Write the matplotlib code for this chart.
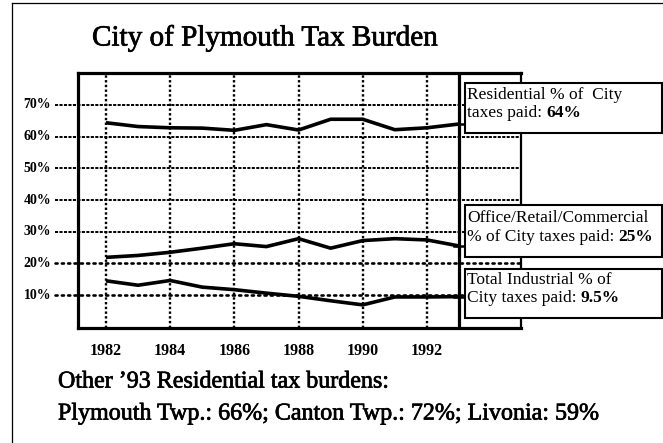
import matplotlib
matplotlib.use("Agg")
import matplotlib.pyplot as plt
from matplotlib.patches import Rectangle
from matplotlib.lines import Line2D
import matplotlib.patheffects as pe

# ---- data ----
years = [1982, 1983, 1984, 1985, 1986, 1987, 1988, 1989, 1990, 1991, 1992, 1993]
residential = [64.4, 63.2, 62.8, 62.7, 62.0, 63.8, 62.1, 65.5, 65.5, 62.2, 62.8, 64.0]
office = [21.9, 22.5, 23.5, 24.8, 26.2, 25.3, 27.8, 24.8, 27.2, 27.8, 27.4, 25.5]
industrial = [14.5, 13.1, 14.6, 12.5, 11.7, 10.6, 9.6, 8.2, 6.9, 9.4, 9.4, 9.5]
ytick_vals = [10, 20, 30, 40, 50, 60, 70]
ytick_labels = ["10%", "20%", "30%", "40%", "50%", "60%", "70%"]
xtick_vals = [1982, 1984, 1986, 1988, 1990, 1992]
xtick_labels = ["1982", "1984", "1986", "1988", "1990", "1992"]
title = "City of Plymouth Tax Burden"
box_texts = [
    ("Residential % of  City", "taxes paid: ", "64%"),
    ("Office/Retail/Commercial", "% of City taxes paid: ", "25%"),
    ("Total Industrial % of", "City taxes paid: ", "9.5%"),
]
footer1 = "Other \u201993 Residential tax burdens:"
footer2 = "Plymouth Twp.: 66%; Canton Twp.: 72%; Livonia: 59%"

W, H = 663, 443
SERIF = ["Liberation Serif", "DejaVu Serif"]
plt.rcParams["font.family"] = SERIF
heavy = [pe.withStroke(linewidth=0.5, foreground="black")]

fig = plt.figure(figsize=(W / 100, H / 100), dpi=100)
fig.patch.set_facecolor("white")

def fx(px):
    return px / W

def fy(py):
    return 1 - py / H

# main axes: x 78..521, y 73..328 (pixels)
ax = fig.add_axes([fx(78), fy(328), fx(521) - fx(78), fy(73) - fy(328)])
ax.set_xlim(1981.13, 1994.93)
ax.set_ylim(-0.4, 80.1)
ax.set_xticks([])
ax.set_yticks([])
for s in ["left", "top", "bottom"]:
    ax.spines[s].set_linewidth(2.3)
ax.spines["right"].set_linewidth(1.6)

xleft_grid = 1980.41
xright = 1994.93
# horizontal gridlines
for v in ytick_vals:
    if v >= 30:
        ax.plot([xleft_grid, xright], [v, v], color="black", lw=1.4,
                ls=(0, (1.6, 0.7)), clip_on=False, zorder=1)
    else:
        ax.plot([xleft_grid, xright], [v, v], color="black", lw=1.9,
                ls=(0, (0.8, 1.6)), dash_capstyle="round", clip_on=False, zorder=1)
# vertical gridlines
for xv in xtick_vals:
    ax.plot([xv, xv], [-0.4, 80.1], color="black", lw=1.7,
            ls=(0, (1.0, 1.0)), clip_on=False, zorder=1)
# 1993 vertical line
ax.axvline(1993, color="black", lw=2.3, zorder=3)

# series
for series in (residential, office, industrial):
    ax.plot(years, series, color="black", lw=2.6, solid_capstyle="butt", zorder=4)
    ax.plot([years[-1] - 0.15, years[-1] + 0.22], [series[-1], series[-1]],
            color="black", lw=1.8, clip_on=False, zorder=6)

# tick labels
for v, lab in zip(ytick_vals, ytick_labels):
    disp = ax.transData.transform((xleft_grid, v))
    yfig = fig.transFigure.inverted().transform(disp)[1]
    fig.text(fx(51), yfig, lab, ha="right", va="center", fontsize=10,
             fontweight="bold", family=SERIF)
for xv, lab in zip(xtick_vals, xtick_labels):
    ax.text(xv, -5.1, lab, ha="center", va="top", fontsize=11.5, fontweight="bold",
            family=SERIF, clip_on=False)

# title
fig.text(fx(92), fy(38), title, ha="left", va="center", fontsize=21, family=SERIF,
         path_effects=heavy)

# frame border (left and top)
fig.add_artist(Line2D([fx(12), fx(12)], [fy(3), fy(443)], color="black", lw=0.9))
fig.add_artist(Line2D([fx(12), fx(663)], [fy(3), fy(3)], color="black", lw=0.9))

# label boxes
boxes = [(83, 133), (205, 257), (269, 318)]
line_offsets = [(12, 30), (13, 32), (11, 29)]
fig.canvas.draw()
renderer = fig.canvas.get_renderer()
for (y0, y1), (l1, l2), (a, b, c) in zip(boxes, line_offsets, box_texts):
    r = Rectangle((fx(465), fy(y1)), fx(662) - fx(465), fy(y0) - fy(y1),
                  transform=fig.transFigure, facecolor="white", edgecolor="black",
                  lw=1.5, zorder=10)
    fig.add_artist(r)
    fig.text(fx(467), fy(y0 + l1), a, ha="left", va="center", fontsize=12.5,
             family=SERIF, zorder=11)
    t2 = fig.text(fx(467), fy(y0 + l2), b, ha="left", va="center", fontsize=12.5,
                  family=SERIF, zorder=11)
    bb = t2.get_window_extent(renderer)
    fig.text(bb.x1 / W, fy(y0 + l2), c, ha="left", va="center", fontsize=12.5,
             fontweight="bold", family=SERIF, zorder=11)

# footer
fig.text(fx(58), fy(382), footer1, ha="left", va="center", fontsize=17.3, family=SERIF,
         path_effects=heavy)
fig.text(fx(58), fy(414), footer2, ha="left", va="center", fontsize=17.3, family=SERIF,
         path_effects=heavy)

fig.savefig("out.png", dpi=100, facecolor="white")
